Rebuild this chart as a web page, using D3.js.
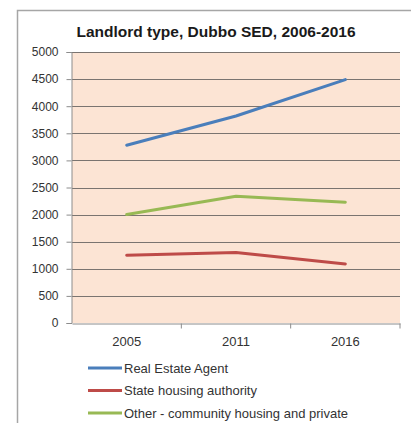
<!DOCTYPE html>
<html>
<head>
<meta charset="utf-8">
<script src="https://cdn.jsdelivr.net/npm/d3@7"></script>
<style>
  html, body { margin: 0; padding: 0; background: #fff; }
  svg { display: block; }
  text { font-family: "Liberation Sans", Arial, sans-serif; }
</style>
</head>
<body>
<div id="chart"></div>
<script>
// Rental dwellings by landlord type, Dubbo SED
const years = ["2005", "2011", "2016"];
const realEstateAgent = [3280, 3820, 4490];
const stateHousing = [1250, 1300, 1090];
const otherCommunityPrivate = [2000, 2340, 2230];
const yTicks = [0, 500, 1000, 1500, 2000, 2500, 3000, 3500, 4000, 4500, 5000];
const seriesNames = ["Real Estate Agent", "State housing authority", "Other - community housing and private"];
const seriesColors = ["#4a7ebb", "#be4b48", "#98b954"];

const series = [
  { name: seriesNames[0], color: seriesColors[0], values: realEstateAgent },
  { name: seriesNames[1], color: seriesColors[1], values: stateHousing },
  { name: seriesNames[2], color: seriesColors[2], values: otherCommunityPrivate }
];

const W = 411, H = 423;
const plot = { left: 72, right: 400, top: 52, bottom: 323 };

const svg = d3.select("#chart").append("svg")
  .attr("width", W).attr("height", H);

// chart frame (left and top edges visible)
svg.append("rect")
  .attr("x", 17.5).attr("y", 10.5)
  .attr("width", W).attr("height", H)
  .attr("fill", "#fff").attr("stroke", "#a6a6a6").attr("stroke-width", 1.5);

// title
svg.append("text")
  .attr("x", 216).attr("y", 37)
  .attr("text-anchor", "middle")
  .attr("font-size", 15.5).attr("font-weight", "bold")
  .attr("fill", "#1a1a1a")
  .text("Landlord type, Dubbo SED, 2006-2016");

const x = d3.scaleBand().domain(years).range([plot.left, plot.right]);
const y = d3.scaleLinear().domain([0, 5000]).range([plot.bottom, plot.top]);

// plot background
svg.append("rect")
  .attr("x", plot.left).attr("y", plot.top)
  .attr("width", plot.right - plot.left).attr("height", plot.bottom - plot.top)
  .attr("fill", "#fce4d4");

// horizontal gridlines
svg.append("g").selectAll("line")
  .data(yTicks.filter(d => d > 0))
  .join("line")
  .attr("x1", plot.left).attr("x2", plot.right)
  .attr("y1", d => Math.round(y(d)) + 0.5).attr("y2", d => Math.round(y(d)) + 0.5)
  .attr("stroke", "#7a7470").attr("stroke-width", 1);

// y axis
const yAxis = svg.append("g")
  .attr("transform", `translate(${plot.left - 0.5},0)`)
  .call(d3.axisLeft(y).tickValues(yTicks).tickSize(5).tickPadding(8).tickFormat(d3.format("d")));
yAxis.select(".domain").attr("stroke", "#8c8c8c");
yAxis.selectAll(".tick line").attr("stroke", "#8c8c8c");
yAxis.selectAll("text").attr("font-size", 12).attr("fill", "#333");

// x axis with ticks on category boundaries
const xAxis = svg.append("g")
  .attr("transform", `translate(0,${plot.bottom + 0.5})`)
  .call(d3.axisBottom(x).tickSize(0).tickPadding(13));
xAxis.select(".domain").attr("stroke", "#8c8c8c");
xAxis.selectAll("text").attr("font-size", 13).attr("fill", "#333");
xAxis.selectAll(".boundary")
  .data(years)
  .join("line")
  .attr("class", "boundary")
  .attr("x1", d => x(d) + x.bandwidth()).attr("x2", d => x(d) + x.bandwidth())
  .attr("y1", 0).attr("y2", 5)
  .attr("stroke", "#8c8c8c");

// series lines
const line = d3.line()
  .x((d, i) => x(years[i]) + x.bandwidth() / 2)
  .y(d => y(d));

svg.append("g").selectAll("path")
  .data(series)
  .join("path")
  .attr("d", s => line(s.values))
  .attr("fill", "none")
  .attr("stroke", s => s.color)
  .attr("stroke-width", 3)
  .attr("stroke-linejoin", "round")
  .attr("stroke-linecap", "round");

// legend
const legend = svg.append("g").selectAll("g")
  .data(series)
  .join("g")
  .attr("transform", (d, i) => `translate(88,${368 + i * 22.5})`);
legend.append("line")
  .attr("x1", 0).attr("x2", 34)
  .attr("stroke", d => d.color).attr("stroke-width", 3);
legend.append("text")
  .attr("x", 36).attr("dy", "0.35em")
  .attr("font-size", 13).attr("fill", "#333")
  .text(d => d.name);
</script>
</body>
</html>
